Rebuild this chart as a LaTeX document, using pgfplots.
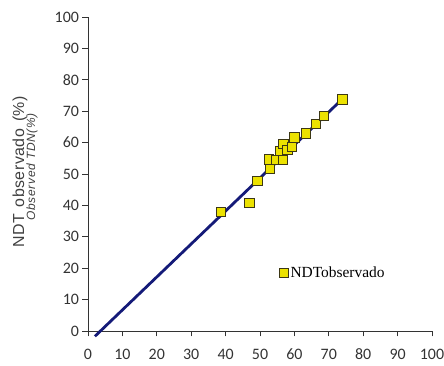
\documentclass[border=0pt]{standalone}
\usepackage{fontspec}
\setmainfont{Liberation Sans}
\newfontfamily\tickfont{Carlito}
\newfontfamily\legfont{Liberation Serif}
\usepackage{pgfplots}
\pgfplotsset{compat=1.18}
\definecolor{myyellow}{RGB}{236,226,0}
\definecolor{myedge}{RGB}{60,55,20}
\definecolor{mynavy}{RGB}{20,26,120}
\begin{document}
\begin{tikzpicture}
\begin{axis}[
  name=ax,
  scale only axis,
  width=344bp, height=314bp,
  xmin=0, xmax=100, ymin=0, ymax=100,
  xtick={0,10,...,100}, ytick={0,10,...,100},
  axis x line*=bottom, axis y line*=left,
  axis line style={line width=0.9pt, black!80},
  tick style={line width=0.9pt, black!80},
  tick align=outside, major tick length=5.5bp,
  tick label style={font=\fontsize{16}{16}\tickfont, text=black!80},
  /pgf/number format/assume math mode=true,
  xticklabel style={yshift=-11bp, inner ysep=1bp},
  clip=false,
  legend style={draw=none, fill=none, at={(axis cs:55.5,18.5)}, anchor=west,
     font=\fontsize{15.5}{16}\legfont, legend cell align=left, inner sep=0pt,
     /tikz/every even column/.append style={column sep=0pt}},
  legend image code/.code={\draw[#1] plot coordinates {(0.35em,0cm)};},
]
\addplot[mynavy, line width=2.8pt, forget plot] coordinates {(2,-1.7) (73,72.9)};
\addplot[only marks, mark=square*, mark size=4.7bp,
  mark options={fill=myyellow, draw=myedge, line width=0.7pt}] coordinates {
(38.6,38.0)
(46.9,40.9)
(49.2,47.9)
(52.9,51.8)
(52.6,54.7)
(54.8,54.5)
(56.6,54.5)
(55.8,57.3)
(56.8,59.6)
(57.9,57.6)
(59.2,58.7)
(60.0,61.7)
(63.4,63.0)
(66.3,65.9)
(68.6,68.5)
(73.9,73.8)
};
\addlegendentry{NDTobservado}
\end{axis}
\node[rotate=90, anchor=center, font=\fontsize{16}{16}\selectfont\addfontfeature{LetterSpace=3}, text=black!75] at ([xshift=-68bp,yshift=2bp]ax.west) {NDT\hspace{7bp}observado\hspace{7bp}(\%)};
\node[rotate=90, anchor=center, font=\fontsize{12}{12}\selectfont\itshape\addfontfeature{LetterSpace=6}, text=black!75] at ([xshift=-56bp,yshift=7bp]ax.west) {Observed TDN(\%)};
\pgfresetboundingbox
\path[use as bounding box] ([shift={(-88bp,-35bp)}]ax.south west) rectangle ([shift={(12bp,17bp)}]ax.north east);
\end{tikzpicture}
\end{document}
